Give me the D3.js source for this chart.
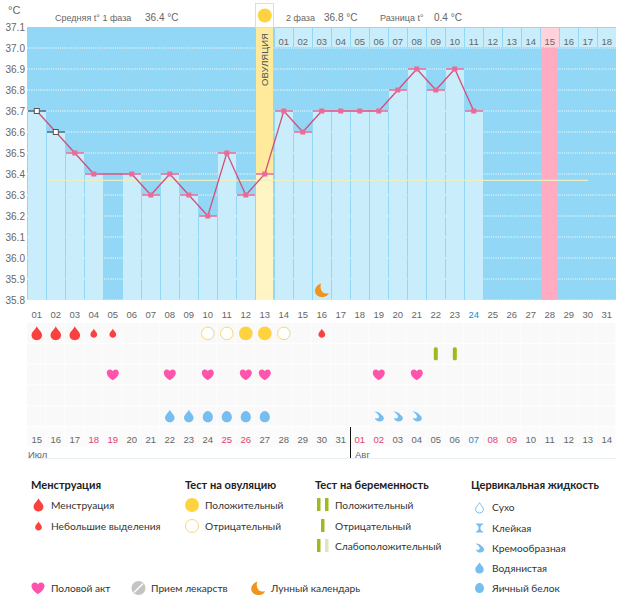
<!DOCTYPE html>
<html lang="ru">
<head>
<meta charset="utf8">
<script src="https://d3js.org/d3.v7.min.js"></script>
<title>График базальной температуры</title>
<style>
html, body { margin: 0; padding: 0; background: #fff; }
svg { display: block; }
text { font-family: "Liberation Sans", Arial, sans-serif; fill: #666; }
.lg text { font-family: Lato, "Noto Sans", sans-serif; fill: #333; font-size: 10.2px; }
.lg text.head { font-weight: 700; font-size: 11.1px; fill: #222; }
</style>
</head>
<body>
<div class="chart"></div>
<script>
// данные
var days = d3.range(1, 32);
var temps = [36.7, 36.6, 36.5, 36.4, null, 36.4, 36.3, 36.4, 36.3, 36.2, 36.5, 36.3, 36.4, 36.7, 36.6, 36.7,
             36.7, 36.7, 36.7, 36.8, 36.9, 36.8, 36.9, 36.7];
var excluded = [1, 2];           // первые два дня с другим маркером
var yTicks = [37.1, 37.0, 36.9, 36.8, 36.7, 36.6, 36.5, 36.4, 36.3, 36.2, 36.1, 36.0, 35.9, 35.8];
var phaseDays = ["01","02","03","04","05","06","07","08","09","10","11","12","13","14","15","16","17","18"];
var calDates = ["15","16","17","18","19","20","21","22","23","24","25","26","27","28","29","30","31",
                "01","02","03","04","05","06","07","08","09","10","11","12","13","14"];
var redDates = [4, 5, 11, 12, 18, 19, 25, 26];
var blueDates = [24];
var ovulationDay = 13, expectedDay = 28, moonDay = 16, meanTemp = 36.37;
var mensFull = [1, 2, 3], mensLight = [4, 5, 16];
var ovuPos = [12, 13], ovuNeg = [10, 11, 14];
var pregTest = [22, 23];
var sexDays = [5, 8, 10, 12, 13, 19, 21];
var fluidWater = [8, 9], fluidEgg = [10, 11, 12, 13], fluidCream = [19, 20, 21];

var width = 626, height = 595;
var svg = d3.select("div.chart").append("svg").attr("width", width).attr("height", height);

var x = d3.scaleBand().domain(days).range([27, 616]);
var y = d3.scaleLinear().domain([35.8, 37.1]).range([300, 27]);
var cx = function(d){ return x(d) + x.bandwidth()/2 + 0.3; };
var rowY = d3.scaleBand().domain(d3.range(5)).range([323, 427]);
var rowC = function(r){ return rowY(r) + rowY.bandwidth()/2; };

// значки
var dropPath = "M0,-1.15 C0.22,-0.62 0.85,-0.25 0.85,0.3 C0.85,0.78 0.45,1.1 0,1.1 C-0.45,1.1 -0.85,0.78 -0.85,0.3 C-0.85,-0.25 -0.22,-0.62 0,-1.15Z";
var eggPath = "M0,-1 C0.5,-1 0.9,-0.45 0.9,0.1 C0.9,0.65 0.5,1 0,1 C-0.5,1 -0.9,0.65 -0.9,0.1 C-0.9,-0.45 -0.5,-1 0,-1Z";
var heartPath = "M0,0.95 C-0.5,0.65 -1,0.2 -1,-0.3 C-1,-0.75 -0.65,-0.85 -0.45,-0.85 C-0.2,-0.85 -0.05,-0.65 0,-0.55 C0.05,-0.65 0.2,-0.85 0.45,-0.85 C0.65,-0.85 1,-0.75 1,-0.3 C1,0.2 0.5,0.65 0,0.95Z";
var creamPath = "M-0.9,-1 C-0.2,-1 0.3,-0.75 0.55,-0.3 C0.8,-0.25 1,0.1 1,0.4 C1,0.8 0.6,1 0.15,1 C-0.3,1 -0.65,0.7 -0.8,0.3 C-0.35,0.5 0.05,0.35 0.05,0.05 C0.05,-0.35 -0.45,-0.8 -0.9,-1Z";
var moonPath = "M-0.1,-1 C-0.75,-0.8 -1.05,-0.25 -1.05,0.15 C-1.05,0.7 -0.5,1.1 0.1,1.1 C0.55,1.1 0.95,0.85 1.1,0.5 C0.55,0.65 0.05,0.45 -0.1,0 C-0.25,-0.4 -0.2,-0.75 -0.1,-1Z";
var hourPath = "M-0.8,-1 L0.8,-1 L0.8,-0.8 C0.3,-0.6 0.2,-0.25 0.2,0 C0.2,0.25 0.3,0.6 0.8,0.8 L0.8,1 L-0.8,1 L-0.8,0.8 C-0.3,0.6 -0.2,0.25 -0.2,0 C-0.2,-0.25 -0.3,-0.6 -0.8,-0.8Z";

function icon(g, path, px, py, s, fill, stroke){
    return g.append("path").attr("d", path)
        .attr("transform", "translate(" + px + "," + py + ") scale(" + s + ")")
        .attr("fill", fill)
        .attr("stroke", stroke || "none")
        .attr("stroke-width", stroke ? 1/s : 0);
}

// фон графика
svg.append("rect").attr("x", 27).attr("y", 27).attr("width", 589).attr("height", 273).attr("fill", "#92d8f6");

// сетка
var grid = svg.append("g");
grid.selectAll("line").data(yTicks.slice(1)).enter().append("line")
    .attr("x1", 27).attr("x2", 616)
    .attr("y1", function(d){ return y(d); }).attr("y2", function(d){ return y(d); })
    .attr("stroke", "#fff").attr("stroke-width", 1).attr("stroke-dasharray", "1 1.2");

// ячейки второй фазы
svg.append("g").selectAll("rect").data(d3.range(14, 32)).enter().append("rect")
    .attr("x", function(d){ return x(d) + 1; })
    .attr("y", 28)
    .attr("width", x.bandwidth() - 1)
    .attr("height", y(37.0) - 29)
    .attr("fill", function(d){ return d == expectedDay ? "#ffd3de" : "#c9edfb"; });

// столбики
var bars = svg.append("g");
temps.forEach(function(t, i){
    if (t === null) return;
    var d = i + 1;
    if (d == ovulationDay) return;
    bars.append("rect")
        .attr("x", x(d) + 1)
        .attr("y", y(t))
        .attr("width", x.bandwidth() - 1)
        .attr("height", y(35.8) - y(t))
        .attr("fill", "#c9edfb");
});

// день овуляции
svg.append("rect").attr("x", x(ovulationDay) + 1).attr("y", 27).attr("width", x.bandwidth() - 2)
    .attr("height", y(temps[ovulationDay-1]) - 27).attr("fill", "#ffe99a");
svg.append("rect").attr("x", x(ovulationDay) + 1).attr("y", y(temps[ovulationDay-1])).attr("width", x.bandwidth() - 2)
    .attr("height", y(35.8) - y(temps[ovulationDay-1])).attr("fill", "#fff4c4");
svg.append("rect").attr("x", x(ovulationDay) + 0.5).attr("y", 3.5).attr("width", x.bandwidth() - 1).attr("height", 24)
    .attr("fill", "#fff").attr("stroke", "#bfe7f8");
svg.append("circle").attr("cx", cx(ovulationDay)).attr("cy", 15.5).attr("r", 7).attr("fill", "#ffd23f");
svg.append("text").text("ОВУЛЯЦИЯ")
    .attr("transform", "translate(" + (cx(ovulationDay) + 3.5) + ",86) rotate(-90)")
    .attr("font-size", 9.5).style("fill", "#555");

// предполагаемый день
svg.append("rect").attr("x", x(expectedDay) + 1).attr("y", y(37.0)).attr("width", x.bandwidth() - 2.5)
    .attr("height", y(35.8) - y(37.0)).attr("fill", "#ffacc3");

// средняя линия
svg.append("line").attr("x1", 47).attr("x2", 588).attr("y1", y(meanTemp)).attr("y2", y(meanTemp))
    .attr("stroke", "#e9efc0").attr("stroke-width", 1.2);

// линия температуры
var pts = temps.map(function(t, i){ return {d: i + 1, t: t}; }).filter(function(p){ return p.t !== null; });
var line = d3.line().x(function(p){ return cx(p.d); }).y(function(p){ return y(p.t); });
svg.append("path").attr("d", line(pts)).attr("fill", "none").attr("stroke", "#d24f7a").attr("stroke-width", 1.3);

// маркеры
var marks = svg.append("g").selectAll("g").data(pts).enter().append("g");
marks.append("line")
    .attr("x1", function(p){ return x(p.d) + 1; })
    .attr("x2", function(p){ return x(p.d) + x.bandwidth(); })
    .attr("y1", function(p){ return y(p.t); }).attr("y2", function(p){ return y(p.t); })
    .attr("stroke", function(p){ return excluded.indexOf(p.d) >= 0 ? "#557080" : "#e8729c"; })
    .attr("stroke-width", 1.6);
marks.append("rect")
    .attr("x", function(p){ return cx(p.d) - 2.5; })
    .attr("y", function(p){ return y(p.t) - 2.5; })
    .attr("width", 5).attr("height", 5)
    .attr("fill", function(p){ return excluded.indexOf(p.d) >= 0 ? "#fff" : "#ec6a96"; })
    .attr("stroke", function(p){ return excluded.indexOf(p.d) >= 0 ? "#555" : "none"; });

// луна
icon(svg, moonPath, cx(moonDay), 290, 6.5, "#f0941e");

// ось Y
svg.append("text").text("°C").attr("x", 8).attr("y", 14).attr("font-size", 11);
svg.append("g").selectAll("text").data(yTicks).enter().append("text")
    .text(function(d){ return d.toFixed(1); })
    .attr("x", 5.5).attr("y", function(d){ return y(d) + 3.5; })
    .attr("font-size", 10);

// шапка
var head = [["Средняя t° 1 фаза", 55, 9], ["36.4 °C", 145, 10], ["2 фаза", 286, 9], ["36.8 °C", 324, 10], ["Разница t°", 380, 9], ["0.4 °C", 434, 10]];
svg.append("g").selectAll("text").data(head).enter().append("text")
    .text(function(h){ return h[0]; })
    .attr("x", function(h){ return h[1]; }).attr("y", 21)
    .attr("font-size", function(h){ return h[2]; });

// дни второй фазы
svg.append("g").selectAll("text").data(phaseDays).enter().append("text")
    .text(function(d){ return d; })
    .attr("x", function(d, i){ return cx(i + 14); }).attr("y", 45)
    .attr("text-anchor", "middle").attr("font-size", 9.5);

// дни цикла
svg.append("g").selectAll("text").data(days).enter().append("text")
    .text(function(d){ return d3.format("02")(d); })
    .attr("x", cx).attr("y", 318)
    .attr("text-anchor", "middle").attr("font-size", 9.5)
    .style("fill", function(d){ return blueDates.indexOf(d) >= 0 ? "#2a86c8" : "#666"; });

// строки отметок
var rows = svg.append("g");
d3.range(5).forEach(function(r){
    days.forEach(function(d){
        rows.append("rect").attr("x", x(d)).attr("y", rowY(r))
            .attr("width", x.bandwidth() - 0.5).attr("height", rowY.bandwidth() - 1).attr("fill", "#f9f9f9");
    });
});
days.forEach(function(d){
    rows.append("rect").attr("x", x(d)).attr("y", 427)
        .attr("width", x.bandwidth() - 0.5).attr("height", 20).attr("fill", "#fbfbfb");
});
var ic = svg.append("g");
mensFull.forEach(function(d){ icon(ic, dropPath, cx(d), rowC(0), 6.2, "#f9423f"); });
mensLight.forEach(function(d){ icon(ic, dropPath, cx(d), rowC(0), 4, "#f9423f"); });
ovuPos.forEach(function(d){ ic.append("circle").attr("cx", cx(d)).attr("cy", rowC(0)).attr("r", 6.8).attr("fill", "#ffd23f"); });
ovuNeg.forEach(function(d){ ic.append("circle").attr("cx", cx(d)).attr("cy", rowC(0)).attr("r", 6.3).attr("fill", "#fff").attr("stroke", "#f6d873"); });
pregTest.forEach(function(d){ ic.append("rect").attr("x", cx(d) - 2).attr("y", rowC(1) - 7).attr("width", 4).attr("height", 13).attr("rx", 1.5).attr("fill", "#9cbb1e"); });
sexDays.forEach(function(d){ icon(ic, heartPath, cx(d), rowC(2) - 0.5, 6, "#ff54ac"); });
fluidWater.forEach(function(d){ icon(ic, dropPath, cx(d), rowC(4) - 0.5, 5.6, "#76bdf0"); });
fluidEgg.forEach(function(d){ icon(ic, eggPath, cx(d), rowC(4), 5.6, "#76bdf0"); });
fluidCream.forEach(function(d){ icon(ic, creamPath, cx(d), rowC(4), 5, "#76bdf0"); });

// календарные даты
svg.append("g").selectAll("text").data(calDates).enter().append("text")
    .text(function(d){ return d; })
    .attr("x", function(d, i){ return cx(i + 1); }).attr("y", 443)
    .attr("text-anchor", "middle").attr("font-size", 9.5)
    .style("fill", function(d, i){
        if (redDates.indexOf(i + 1) >= 0) return "#e4406f";
        return i + 1 == 24 ? "#2a86c8" : "#666";
    });
svg.append("line").attr("x1", 27).attr("x2", 616).attr("y1", 458.5).attr("y2", 458.5).attr("stroke", "#e8f0f4");
svg.append("line").attr("x1", 350.5).attr("x2", 350.5).attr("y1", 427).attr("y2", 458).attr("stroke", "#111");
svg.append("text").text("Июл").attr("x", 28).attr("y", 457.5).attr("font-size", 9.5);
svg.append("text").text("Авг").attr("x", 355).attr("y", 457.5).attr("font-size", 9.5);

// легенда
var lg = svg.append("g").attr("class", "lg");
function label(t, px, py, cls){
    lg.append("text").text(t).attr("x", px).attr("y", py).attr("class", cls || null);
}
label("Менструация", 31, 489, "head");
icon(lg, dropPath, 38.5, 505, 5.8, "#f9423f");
label("Менструация", 51, 509);
icon(lg, dropPath, 38.5, 526, 4, "#f9423f");
label("Небольшие выделения", 51, 530);

label("Тест на овуляцию", 185, 489, "head");
lg.append("circle").attr("cx", 192).attr("cy", 505).attr("r", 7).attr("fill", "#ffd23f");
label("Положительный", 205, 509);
lg.append("circle").attr("cx", 192).attr("cy", 526).attr("r", 6.5).attr("fill", "#fff").attr("stroke", "#f6d873");
label("Отрицательный", 205, 530);

label("Тест на беременность", 315, 489, "head");
[[317, "#9cbb1e"], [325, "#9cbb1e"]].forEach(function(b){ lg.append("rect").attr("x", b[0]).attr("y", 498).attr("width", 3.5).attr("height", 13).attr("fill", b[1]); });
label("Положительный", 335, 509);
lg.append("rect").attr("x", 321).attr("y", 519).attr("width", 3.5).attr("height", 13).attr("fill", "#9cbb1e");
label("Отрицательный", 335, 530);
[[317, "#9cbb1e"], [325, "#dfe6bd"]].forEach(function(b){ lg.append("rect").attr("x", b[0]).attr("y", 539).attr("width", 3.5).attr("height", 13).attr("fill", b[1]); });
label("Слабоположительный", 335, 550);

label("Цервикальная жидкость", 471, 489, "head");
icon(lg, dropPath, 479.5, 508, 4.6, "#fff", "#76bdf0");
label("Сухо", 492, 511);
icon(lg, hourPath, 479.5, 528, 4.6, "#76bdf0");
label("Клейкая", 492, 532);
icon(lg, creamPath, 479.5, 548, 4.6, "#76bdf0");
label("Кремообразная", 492, 552);
icon(lg, dropPath, 479.5, 568, 5, "#76bdf0");
label("Водянистая", 492, 572);
icon(lg, eggPath, 479.5, 588, 5, "#76bdf0");
label("Яичный белок", 492, 592);

icon(lg, heartPath, 38, 588, 6.5, "#ff54ac");
label("Половой акт", 51, 592);
lg.append("circle").attr("cx", 138.5).attr("cy", 588).attr("r", 7).attr("fill", "#c4c4c4");
lg.append("line").attr("x1", 134).attr("y1", 592.5).attr("x2", 143).attr("y2", 583.5).attr("stroke", "#fff").attr("stroke-width", 1.5);
label("Прием лекарств", 151, 592);
icon(lg, moonPath, 258, 588, 6.5, "#f0941e");
label("Лунный календарь", 271, 592);
</script>
</body>
</html>
